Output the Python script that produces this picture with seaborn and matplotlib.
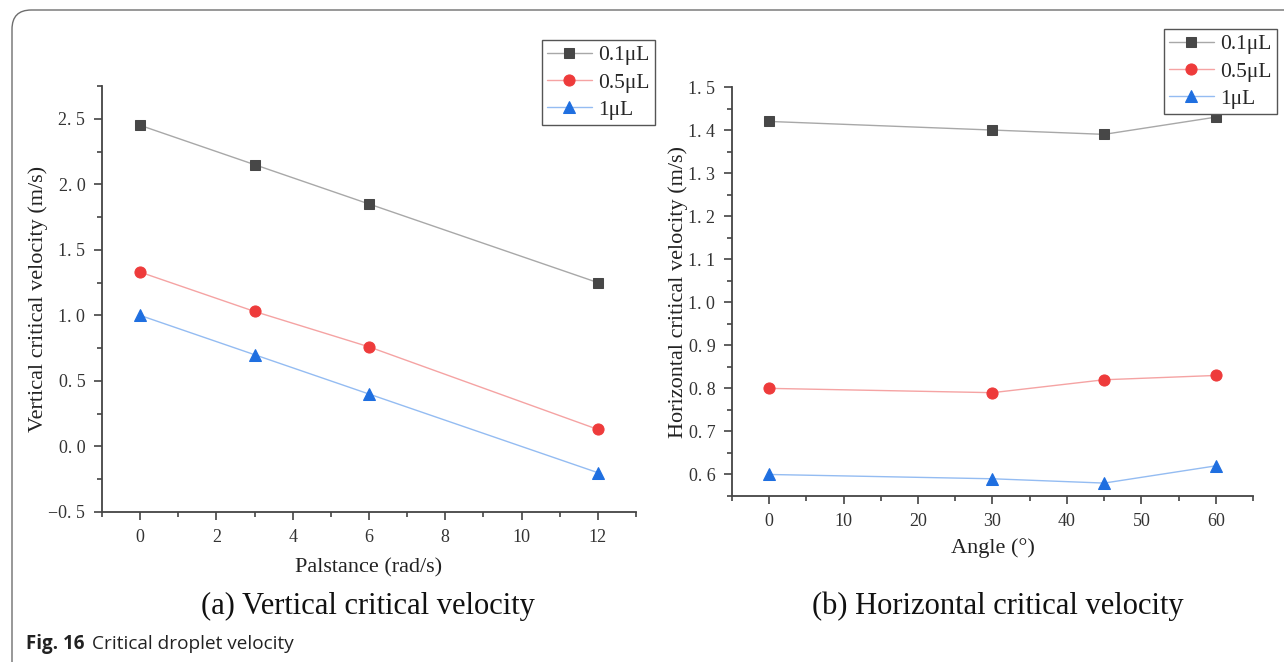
import numpy as np
import pandas as pd
import matplotlib
matplotlib.use("Agg")
import matplotlib.pyplot as plt
import seaborn as sns
from matplotlib.patches import FancyBboxPatch
from matplotlib.ticker import MultipleLocator, FuncFormatter

# ---- data ----
series = ["0.1\u03bcL", "0.5\u03bcL", "1\u03bcL"]
palstance = [0, 3, 6, 12]
vert_01 = [2.45, 2.15, 1.85, 1.25]
vert_05 = [1.33, 1.03, 0.76, 0.13]
vert_1 = [1.00, 0.70, 0.40, -0.20]

angle = [0, 30, 45, 60]
horiz_01 = [1.42, 1.40, 1.39, 1.43]
horiz_05 = [0.80, 0.79, 0.82, 0.83]
horiz_1 = [0.60, 0.59, 0.58, 0.62]

markers = ["s", "o", "^"]
marker_colors = ["#474747", "#ee3b3b", "#1f6fe0"]
line_colors = ["#a8a8a8", "#f5a3a3", "#94bcf2"]

sns.set_style("ticks")
plt.rcParams["font.family"] = ["Liberation Serif", "DejaVu Serif"]
plt.rcParams["axes.unicode_minus"] = True

W, H = 1284, 662
fig = plt.figure(figsize=(W / 100, H / 100), dpi=100)

# border
border = FancyBboxPatch((12 / W, 1 - 10 / H - 700 / H), 1400 / W, 700 / H,
                        boxstyle="round,pad=0,rounding_size=0.015",
                        transform=fig.transFigure, fill=False,
                        edgecolor="#6e6e6e", linewidth=1.0,
                        mutation_aspect=W / H)
fig.patches.append(border)

ax1 = fig.add_axes([102 / W, 1 - 512 / H, (636 - 102) / W, (512 - 86) / H])
ax2 = fig.add_axes([732 / W, 1 - 496 / H, (1253 - 732) / W, (496 - 87) / H])


def draw(ax, x, ys):
    handles = []
    for y, lab, m, mc, lc in zip(ys, series, markers, marker_colors, line_colors):
        df = pd.DataFrame({"x": x, "y": y})
        sns.lineplot(data=df, x="x", y="y", ax=ax, color=lc, linewidth=1.0,
                     marker=m, markersize=8 if m != "s" else 7,
                     markerfacecolor=mc, markeredgecolor=mc, label=lab,
                     legend=False)
        handles.append(ax.lines[-1])
    return handles


h1 = draw(ax1, palstance, [vert_01, vert_05, vert_1])
h2 = draw(ax2, angle, [horiz_01, horiz_05, horiz_1])

spaced = FuncFormatter(lambda v, p: f"{v:.1f}".replace("-", "\u2212").replace(".", ". "))

for ax in (ax1, ax2):
    sns.despine(ax=ax)
    ax.tick_params(which="major", direction="out", length=6, width=1.2,
                   labelsize=13, color="#444444", labelcolor="#333333", pad=6)
    ax.tick_params(which="minor", direction="out", length=3.5, width=1.2,
                   color="#444444")
    for s in ("left", "bottom"):
        ax.spines[s].set_color("#444444")
        ax.spines[s].set_linewidth(1.3)
    ax.yaxis.set_major_formatter(spaced)

ax1.set_xlim(-1, 13)
ax1.set_ylim(-0.5, 2.75)
ax1.set_xticks([0, 2, 4, 6, 8, 10, 12])
ax1.set_yticks([-0.5, 0.0, 0.5, 1.0, 1.5, 2.0, 2.5])
ax1.xaxis.set_minor_locator(MultipleLocator(1))
ax1.yaxis.set_minor_locator(MultipleLocator(0.25))
ax1.set_xlabel("Palstance (rad/s)", fontsize=16, labelpad=9, color="#222222")
ax1.set_ylabel("Vertical critical velocity (m/s)", fontsize=16, labelpad=0, color="#222222")

ax2.set_xlim(-5, 65)
ax2.set_ylim(0.55, 1.5)
ax2.set_xticks([0, 10, 20, 30, 40, 50, 60])
ax2.set_yticks([0.6, 0.7, 0.8, 0.9, 1.0, 1.1, 1.2, 1.3, 1.4, 1.5])
ax2.xaxis.set_minor_locator(MultipleLocator(5))
ax2.yaxis.set_minor_locator(MultipleLocator(0.05))
ax2.set_xlabel("Angle (\u00b0)", fontsize=16, labelpad=6, color="#222222")
ax2.set_ylabel("Horizontal critical velocity (m/s)", fontsize=16, labelpad=0, color="#222222")

leg_kw = dict(loc="upper left", fontsize=15.5, frameon=True, fancybox=False,
              edgecolor="#555555", framealpha=1, borderaxespad=0,
              handlelength=2.05, handletextpad=0.3, labelspacing=0.33,
              borderpad=0.25)
l1 = fig.legend(handles=h1, labels=series, bbox_to_anchor=(542 / W, 1 - 40 / H), **leg_kw)
l2 = fig.legend(handles=h2, labels=series, bbox_to_anchor=(1164 / W, 1 - 29 / H), **leg_kw)
for l in (l1, l2):
    l.get_frame().set_linewidth(1.0)

fig.text(368 / W, 1 - 606 / H, "(a) Vertical critical velocity", ha="center",
         va="center", fontsize=22, color="#111111")
fig.text(998 / W, 1 - 606 / H, "(b) Horizontal critical velocity", ha="center",
         va="center", fontsize=22, color="#111111")

fig.text(26 / W, 1 - 644 / H, "Fig. 16", ha="left", va="center", fontsize=13.5,
         fontweight="bold", family=["Open Sans", "DejaVu Sans"], color="#222222")
fig.text(92 / W, 1 - 644 / H, "Critical droplet velocity", ha="left", va="center",
         fontsize=13.7, family=["Open Sans", "DejaVu Sans"], color="#222222")

fig.savefig("out.png", dpi=100)
